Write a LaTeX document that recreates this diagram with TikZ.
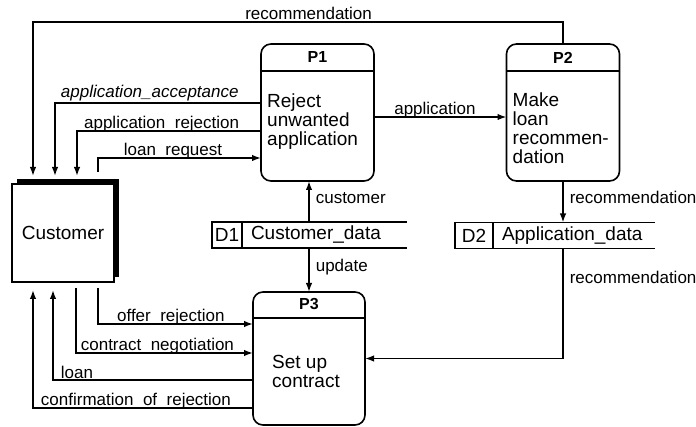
\documentclass[tikz,border=0pt]{standalone}
\usepackage{fontspec}
\setmainfont{Liberation Sans}
\usetikzlibrary{arrows.meta,positioning,shadows}

\tikzset{
  flow/.style={line width=1.6pt, -{Latex[length=9pt,width=6.5pt]}},
  wire/.style={line width=1.5pt},
  process/.style={draw, line width=1.6pt, rounded corners=10pt, inner sep=0pt, outer sep=0pt,
    minimum width=113pt, minimum height=137pt},
  ptitle/.style={font=\fontsize{16}{19}\selectfont\bfseries, inner sep=0pt},
  ptext/.style={font=\fontsize{19}{19}\selectfont, align=left, inner sep=0pt},
  entity/.style={draw, line width=1.2pt, fill=white, outer sep=0pt, minimum width=102pt, minimum height=98pt,
    font=\fontsize{19}{20}\selectfont, general shadow={fill=black, shadow xshift=5pt, shadow yshift=5pt}},
  storeid/.style={draw, line width=1.5pt, minimum width=30pt, minimum height=26pt, inner sep=0pt, outer sep=0pt,
    font=\fontsize{19}{20}\selectfont},
  storename/.style={anchor=west, inner xsep=9pt, inner ysep=0pt, outer sep=0pt, minimum height=26pt,
    font=\fontsize{19}{20}\selectfont},
  lbl/.style={font=\fontsize{17}{19}\selectfont, anchor=base, yshift=2pt, inner sep=0pt},
  vlbl/.style={font=\fontsize{17}{19}\selectfont, anchor=west, xshift=6pt, inner sep=0pt},
}

\begin{document}
\begin{tikzpicture}[x=1pt,y=-1pt]
  \useasboundingbox (0,0) rectangle (696,427);

  \node[entity] (cust) at (63,233) {Customer};

  \node[process] (p1) at (317.5,112.5) {};
  \node[ptitle] (p1t) at ([yshift=-13.5pt]p1.north) {P1};
  \draw[wire] ([yshift=-27pt]p1.north west) -- ([yshift=-27pt]p1.north east);
  \node[ptext, below right=50pt and 6pt of p1.north west] (p1b) {Reject\\unwanted\\application};

  \node[process] (p2) at (563,112.5) {};
  \node[ptitle] (p2t) at ([yshift=-13.5pt]p2.north) {P2};
  \draw[wire] ([yshift=-27pt]p2.north west) -- ([yshift=-27pt]p2.north east);
  \node[ptext, below right=49pt and 6pt of p2.north west] (p2b) {Make\\loan\\recommen-\\dation};

  \node[process, minimum width=112pt, minimum height=133pt] (p3) at (309,358.5) {};
  \node[ptitle] (p3t) at ([yshift=-12.5pt]p3.north) {P3};
  \draw[wire] ([yshift=-26pt]p3.north west) -- ([yshift=-26pt]p3.north east);
  \node[ptext, below right=63pt and 19pt of p3.north west] (p3b) {Set up\\contract};

  \node[storeid] (d1id) at (227,235) {D1};
  \node[storename] (d1) at (d1id.east) {Customer\_data};
  \draw[wire] (d1id.north west) -- ++(195,0);
  \draw[wire] (d1id.south west) -- ++(195,0);

  \node[storeid, minimum width=38pt] (d2id) at (474,235.5) {D2};
  \node[storename] (d2) at (d2id.east) {Application\_data};
  \draw[wire] (d2id.north west) -- ++(200,0);
  \draw[wire] (d2id.south west) -- ++(200,0);

  \draw[flow] (p2.north) -- ++(0,-22) -| node[lbl, pos=0.24] {recommendation} ([xshift=-30pt,yshift=8pt]cust.north);
  \draw[flow] ([yshift=9.5pt]p1.west) -| node[lbl, pos=0.27, yshift=3pt] {\itshape application\_acceptance} ([xshift=-8pt,yshift=8pt]cust.north);
  \draw[flow] ([yshift=-18.5pt]p1.west) -| node[lbl, pos=0.27] {application\_rejection} ([xshift=14pt,yshift=8pt]cust.north);
  \draw[flow] ([xshift=35pt,yshift=12pt]cust.north) |- node[lbl, pos=0.73] {loan\_request} ([yshift=-45.5pt]p1.west);
  \draw[flow] ([yshift=-4.5pt]p1.east) -- node[lbl, pos=0.46] {application} ([yshift=-4.5pt]p2.west);

  \draw[flow] (p3.north |- d1.north) -- node[vlbl, pos=0.585] {customer} (p3.north |- p1.south);
  \draw[flow] (p3.north |- d1.south) -- node[vlbl, pos=0.43] {update} (p3.north);
  \draw[flow] (p2.south) -- node[vlbl, pos=0.4] {recommendation} (p2.south |- d2.north);
  \draw[flow] (p2.south |- d2.south) |- node[vlbl, pos=0.13] {recommendation} (p3.east);

  \draw[flow] ([xshift=35pt,yshift=-6pt]cust.south) |- node[lbl, pos=0.735] {offer\_rejection} ([yshift=34.5pt]p3.west);
  \draw[flow] ([xshift=13pt,yshift=-6pt]cust.south) |- node[lbl, pos=0.73] {contract\_negotiation} ([yshift=5.5pt]p3.west);
  \draw[flow] ([yshift=-21.5pt]p3.west) -| node[lbl, pos=0.44] {loan} ([xshift=-10pt,yshift=-8pt]cust.south);
  \draw[flow] ([yshift=-49.5pt]p3.west) -| node[lbl, pos=0.266] {confirmation\_of\_rejection} ([xshift=-30pt,yshift=-8pt]cust.south);
\end{tikzpicture}
\end{document}
